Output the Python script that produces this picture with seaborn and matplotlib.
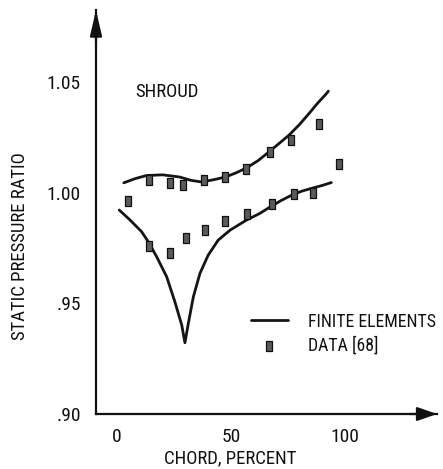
import matplotlib
matplotlib.use("Agg")
import matplotlib.pyplot as plt
from matplotlib import font_manager as fm
import seaborn as sns
import pandas as pd
from matplotlib.path import Path

# ---- data ----
upper_x = [3, 8, 13, 20, 27.5, 32.5, 37, 42, 47.5, 52, 56.6, 62, 66.8, 71, 75.5, 80, 84.3, 88, 91.6, 92.7]
upper_y = [1.0045, 1.0064, 1.0078, 1.0081, 1.0071, 1.0056, 1.0049, 1.0058, 1.0071, 1.0089,
           1.0111, 1.0146, 1.0186, 1.0222, 1.0261, 1.0308, 1.0359, 1.0405, 1.0445, 1.0459]

lower_x = [1.0, 5.7, 10.8, 13.7, 17.4, 21.8, 25.4, 28.4, 29.8, 31.3, 33.5, 36.4, 40.0, 44.4,
           49.6, 56.9, 62.7, 67.5, 72, 77, 81, 85.7, 90, 94]
lower_y = [0.9922, 0.9877, 0.9824, 0.9779, 0.9711, 0.9620, 0.9507, 0.9402, 0.9322, 0.9410,
           0.9530, 0.9636, 0.9718, 0.9786, 0.9831, 0.9877, 0.9907, 0.9938, 0.9965, 0.9991,
           1.0007, 1.0021, 1.0033, 1.0046]

data_x = [4.7, 14.0, 14.2, 23.2, 23.4, 29.0, 30.2, 38.2, 38.8, 47.3, 47.4, 56.8, 57.1,
          67.2, 67.9, 76.2, 77.7, 86.1, 88.6, 97.5]
data_y = [0.9962, 1.0058, 0.9760, 1.0043, 0.9727, 1.0036, 0.9795, 1.0058, 0.9831, 1.0073,
          0.9872, 1.0106, 0.9902, 1.0183, 0.9947, 1.0237, 0.9993, 0.9997, 1.0309, 1.0132]

x_ticks = [0, 50, 100]
x_tick_labels = ["0", "50", "100"]
y_ticks = [0.90, 0.95, 1.00, 1.05]
y_tick_labels = [".90", ".95", "1.00", "1.05"]

line_label = "FINITE ELEMENTS"
data_label = "DATA [68]"
x_label = "CHORD, PERCENT"
y_label = "STATIC PRESSURE RATIO"
annotation = "SHROUD"

# ---- styling ----
sns.set_theme(style="white")


def _is_condensed(f):
    st = f.stretch
    if isinstance(st, str):
        return st in ("condensed", "semi-condensed", "extra-condensed", "ultra-condensed", "narrow")
    return st < 500


pref = ["Liberation Sans Narrow", "Roboto Condensed", "Open Sans Condensed",
        "DejaVu Sans", "Noto Sans", "Roboto", "Open Sans", "Noto Sans Display"]
found = {}
for f in fm.fontManager.ttflist:
    if (_is_condensed(f) or "Narrow" in f.name or "Condensed" in f.name) and f.weight in (400, "normal", "regular"):
        found.setdefault(f.name, f)
chosen = None
for p in pref:
    if p in found:
        chosen = p
        break
if chosen is None and found:
    chosen = sorted(found)[0]

if chosen is not None:
    plt.rcParams["font.family"] = [chosen, "DejaVu Sans"]
    plt.rcParams["font.stretch"] = "condensed"
    SZ = 13.5
    LSZ = 12.8
else:
    plt.rcParams["font.family"] = ["DejaVu Sans"]
    SZ = 11
    LSZ = 10.5

fig = plt.figure(figsize=(4.43, 4.69), dpi=100)
ax = fig.add_axes([96 / 443, 55 / 469, 341 / 443, 404 / 469])

curves = pd.concat([
    pd.DataFrame({"x": upper_x, "y": upper_y, "curve": "upper"}),
    pd.DataFrame({"x": lower_x, "y": lower_y, "curve": "lower"}),
])
sns.lineplot(data=curves, x="x", y="y", units="curve", estimator=None, sort=False,
             color="#151515", linewidth=2.0, ax=ax, legend=False)

rect = Path([(-0.28, -0.5), (0.28, -0.5), (0.28, 0.5), (-0.28, 0.5), (-0.28, -0.5)],
            [Path.MOVETO, Path.LINETO, Path.LINETO, Path.LINETO, Path.CLOSEPOLY])
pts = pd.DataFrame({"x": data_x, "y": data_y})
sns.scatterplot(data=pts, x="x", y="y", marker=rect, s=60, color="#5a5a5a",
                edgecolor="#111111", linewidth=0.9, ax=ax, legend=False, zorder=3)

ax.set_xlim(-9.2, 140.35)
ax.set_ylim(0.90, 1.0826)

for s in ["top", "right"]:
    ax.spines[s].set_visible(False)
for s in ["left", "bottom"]:
    ax.spines[s].set_color("#111111")
    ax.spines[s].set_linewidth(1.6)

ax.set_xticks(x_ticks)
ax.set_xticklabels(x_tick_labels)
ax.set_yticks(y_ticks)
ax.set_yticklabels(y_tick_labels)
ax.tick_params(axis="both", direction="inout", length=8, width=1.5, color="#111111",
               labelsize=SZ + 0.5, labelcolor="#111111")
ax.tick_params(axis="x", pad=6)
ax.tick_params(axis="y", pad=7)

ax.set_xlabel(x_label, fontsize=SZ, color="#111111")
ax.set_ylabel(y_label, fontsize=SZ, color="#111111")
ax.xaxis.set_label_coords(0.393, -0.087)
ax.yaxis.set_label_coords(-0.196, 0.416)

ax.text(7.9, 1.0455, annotation, ha="left", va="center", fontsize=SZ, color="#111111")

# axis arrows
ax.annotate("", xy=(0, 1.0), xytext=(0, 0.92), xycoords="axes fraction",
            arrowprops=dict(arrowstyle="-|>,head_length=1.3,head_width=0.3",
                            lw=1.6, color="#111111", shrinkA=0, shrinkB=0))
ax.annotate("", xy=(1.0, 0), xytext=(0.92, 0), xycoords="axes fraction",
            arrowprops=dict(arrowstyle="-|>,head_length=1.0,head_width=0.35",
                            lw=1.6, color="#111111", shrinkA=0, shrinkB=0))

handles = [ax.lines[0], ax.collections[0]]
leg = ax.legend(handles, [line_label, data_label], loc="upper left",
                bbox_to_anchor=(0.455, 0.251), frameon=False, fontsize=LSZ,
                handlelength=2.05, handletextpad=1.15, labelspacing=0.32,
                borderpad=0, borderaxespad=0)
for t in leg.get_texts():
    t.set_color("#111111")

fig.savefig("out.png", dpi=100)
